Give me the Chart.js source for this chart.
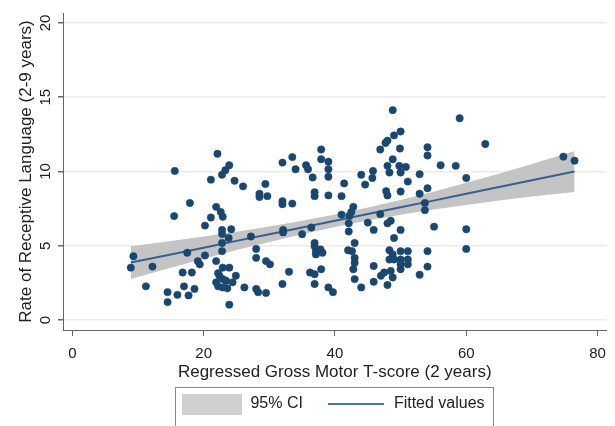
<!DOCTYPE html>
<html>
<head>
<meta charset="utf-8">
<script src="https://cdn.jsdelivr.net/npm/chart.js@4.4.0/dist/chart.umd.min.js"></script>
<style>
  html, body { margin: 0; padding: 0; background: #fff; }
  #wrap { width: 615px; height: 426px; }
</style>
</head>
<body>
<div id="wrap"><canvas id="chart" width="615" height="426"></canvas></div>
<script>
// ---- data ----
const motorScore = [
  15.6, 17.9, 15.5, 9.3, 8.9, 12.2, 17.5, 11.2, 16.8, 18.2, 17.0, 14.5, 16.0, 17.7, 14.5, 18.6,
  22.1, 23.9, 23.3, 22.8, 21.1, 24.7, 26.0, 29.4, 28.5, 28.5, 29.7, 21.9, 22.6, 22.9, 21.1, 20.2,
  22.8, 22.8, 24.2, 23.8, 27.2, 22.8, 22.8, 20.2, 19.1, 19.4, 28.0, 28.0, 29.5, 21.9, 22.9, 23.9,
  22.2, 22.4, 24.9, 22.9, 23.4, 21.9, 24.4, 22.2, 22.9, 23.6, 26.2, 28.0, 28.3, 29.5, 23.9,
  37.9, 32.0, 33.5, 34.0, 35.6, 35.9, 36.6, 37.9, 39.0, 39.0, 39.0, 36.9, 36.9, 39.0, 41.0, 41.4,
  32.0, 32.0, 33.5, 32.1, 32.1, 35.0, 36.4, 36.9, 36.9, 37.1, 37.8, 38.1, 37.1, 30.1, 33.0, 36.2,
  36.9, 37.9, 32.0, 36.9, 39.0, 39.7,
  48.8, 50.0, 49.0, 48.0, 47.7, 46.9, 49.9, 48.8, 48.0, 48.3, 49.8, 50.8, 50.0, 45.8, 45.7, 44.0,
  44.6, 51.1, 47.8, 48.0, 50.0, 42.8, 42.5, 42.2, 42.1, 42.1, 41.0, 45.0, 45.9, 46.9, 48.0, 48.5,
  50.0, 49.0, 43.0, 42.0, 42.6, 43.0, 43.0, 42.8, 43.0, 44.0, 45.9, 45.9, 47.0, 47.5, 48.5, 48.8,
  48.0, 48.3, 48.8, 50.0, 51.1, 48.3, 49.0, 50.0, 51.1, 50.0, 50.0, 51.1,
  59.0, 62.9, 54.1, 54.1, 56.1, 58.4, 52.9, 60.0, 54.1, 52.9, 53.7, 53.7, 55.1, 60.0, 54.1, 60.0,
  54.1, 52.9,
  74.8, 76.5
];
const receptiveRate = [
  10.04, 7.88, 7.0, 4.3, 3.53, 3.6, 4.53, 2.27, 3.2, 3.2, 2.27, 1.88, 1.7, 1.66, 1.21, 2.1,
  11.19, 10.42, 10.09, 9.78, 9.45, 9.38, 9.0, 9.16, 8.5, 8.28, 8.34, 7.62, 7.28, 6.95, 6.9, 6.36,
  6.07, 5.8, 6.11, 5.52, 5.63, 5.19, 4.64, 4.35, 3.97, 3.75, 4.79, 4.19, 3.97, 3.97, 3.53, 3.53,
  3.16, 2.98, 2.98, 2.76, 2.65, 2.54, 2.54, 2.27, 2.2, 2.14, 2.2, 2.1, 1.88, 1.83, 1.04,
  11.48, 10.6, 10.97, 10.15, 10.42, 10.15, 9.6, 10.82, 10.66, 10.15, 9.65, 8.6, 8.34, 8.39, 8.34, 9.2,
  8.0, 7.8, 7.84, 6.07, 5.9, 5.78, 6.23, 5.19, 4.97, 4.64, 4.75, 4.53, 4.42, 3.75, 3.25, 3.2,
  3.09, 3.42, 2.43, 2.43, 2.2, 1.88,
  14.13, 12.69, 12.43, 12.08, 11.92, 11.48, 11.55, 10.82, 10.38, 9.93, 10.38, 10.31, 9.93, 10.04, 9.56, 9.78,
  9.12, 9.32, 8.68, 8.39, 8.65, 7.62, 7.28, 7.0, 6.51, 5.96, 7.1, 6.56, 6.07, 7.13, 6.51, 6.69,
  6.07, 5.52, 5.19, 4.7, 4.64, 4.19, 3.86, 3.42, 2.76, 2.2, 3.64, 2.58, 2.98, 3.2, 3.31, 2.87,
  2.36, 4.7, 4.42, 4.64, 4.64, 4.08, 4.08, 4.08, 4.08, 3.75, 3.42, 3.75,
  13.58, 11.85, 11.63, 11.08, 10.42, 10.38, 9.82, 9.56, 8.87, 8.5, 7.88, 7.4, 6.29, 6.11, 4.64, 4.79,
  3.6, 3.05,
  11.0, 10.73
];

// fitted line and its 95% band, read at a few x positions
const ciX     = [8.9, 15, 20, 25, 30, 35, 40, 45, 50, 55, 60, 65, 70, 76.5];
const ciLower = [2.77, 3.52, 4.12, 4.71, 5.26, 5.78, 6.27, 6.70, 7.09, 7.44, 7.75, 8.05, 8.31, 8.62];
const ciUpper = [4.97, 5.32, 5.62, 5.95, 6.30, 6.68, 7.11, 7.58, 8.09, 8.64, 9.25, 9.85, 10.51, 11.38];
const fitted  = [3.87, 4.42, 4.87, 5.33, 5.78, 6.23, 6.69, 7.14, 7.59, 8.04, 8.50, 8.95, 9.41, 10.0];

const xTicks = [0, 20, 40, 60, 80];
const yTicks = [0, 5, 10, 15, 20];

const FONT = "'Liberation Sans', Arial, sans-serif";
const NAVY = '#1a476f';
const AXIS = '#666666';

function swatch(w, h, color) {
  const c = document.createElement('canvas');
  c.width = w; c.height = h;
  const g = c.getContext('2d');
  g.fillStyle = color;
  g.fillRect(0, 0, w, h);
  return c;
}
const ciSwatch = swatch(60, 21, '#d0d0d0');
const fitSwatch = swatch(56, 2, '#4f74a3');

const pts = (xs, ys) => xs.map((x, i) => ({ x: x, y: ys[i] }));

// legend sits a bit right of centre in a thin frame
const legendFrame = {
  id: 'legendFrame',
  afterLayout(chart) {
    const lg = chart.legend;
    lg.left += 30; lg.right += 30;
    lg.top -= 4; lg.bottom -= 4;
  },
  afterDraw(chart) {
    const hb = chart.legend.legendHitBoxes;
    if (!hb || !hb.length) return;
    const last = hb[hb.length - 1];
    const x0 = Math.round(hb[0].left - 7) + 0.5;
    const x1 = Math.round(last.left + last.width + 8) + 0.5;
    const y0 = Math.round(hb[0].top - 9) + 0.5;
    const ctx = chart.ctx;
    ctx.save();
    ctx.strokeStyle = '#8a8a8a';
    ctx.lineWidth = 1;
    ctx.strokeRect(x0, y0, x1 - x0, 60);
    ctx.restore();
  }
};

new Chart(document.getElementById('chart'), {
  type: 'scatter',
  data: {
    datasets: [
      {
        label: 'points',
        data: pts(motorScore, receptiveRate),
        pointRadius: 3.7,
        backgroundColor: NAVY,
        borderColor: NAVY,
        borderWidth: 0.5,
        order: 0
      },
      {
        label: 'Fitted values',
        data: pts(ciX, fitted),
        showLine: true,
        pointRadius: 0,
        borderColor: '#34618f',
        borderWidth: 2,
        order: 1
      },
      {
        label: 'lower',
        data: pts(ciX, ciLower),
        showLine: true,
        pointRadius: 0,
        borderWidth: 0,
        borderColor: 'rgba(0,0,0,0)',
        order: 3
      },
      {
        label: '95% CI',
        data: pts(ciX, ciUpper),
        showLine: true,
        pointRadius: 0,
        borderWidth: 0,
        borderColor: 'rgba(0,0,0,0)',
        backgroundColor: '#c4c4c4',
        fill: '-1',
        order: 2
      }
    ]
  },
  options: {
    responsive: false,
    animation: false,
    devicePixelRatio: 1,
    layout: { padding: { top: 10, right: 8, left: 0, bottom: 0 } },
    plugins: {
      tooltip: { enabled: false },
      legend: {
        position: 'bottom',
        labels: {
          usePointStyle: true,
          pointStyleWidth: 60,
          padding: 23,
          color: '#222',
          font: { family: FONT, size: 16 },
          generateLabels: () => [
            { text: '95% CI', pointStyle: ciSwatch, fontColor: '#222', hidden: false, lineWidth: 0, strokeStyle: 'rgba(0,0,0,0)', fillStyle: '#d0d0d0', datasetIndex: 3 },
            { text: 'Fitted values', pointStyle: fitSwatch, fontColor: '#222', hidden: false, lineWidth: 0, strokeStyle: 'rgba(0,0,0,0)', fillStyle: '#4f74a3', datasetIndex: 1 }
          ]
        }
      }
    },
    scales: {
      x: {
        type: 'linear',
        min: -1.43,
        max: 81.37,
        afterBuildTicks: (s) => { s.ticks = xTicks.map(v => ({ value: v })); },
        afterFit: (s) => { s.height = 47; },
        ticks: { color: '#222', font: { family: FONT, size: 15 }, padding: 9, maxRotation: 0 },
        grid: { drawOnChartArea: false, tickLength: 6, tickColor: AXIS },
        border: { color: AXIS, width: 1 },
        title: {
          display: true,
          text: 'Regressed Gross Motor T-score (2 years)',
          color: '#222',
          font: { family: FONT, size: 17 },
          padding: { top: 0, bottom: -6 }
        }
      },
      y: {
        type: 'linear',
        min: -0.667,
        max: 20.667,
        afterBuildTicks: (s) => { s.ticks = yTicks.map(v => ({ value: v })); },
        afterFit: (s) => { s.width = 63; },
        ticks: { color: '#222', font: { family: FONT, size: 15 }, minRotation: 90, maxRotation: 90, crossAlign: 'center', padding: 4 },
        grid: { color: '#ebebeb', lineWidth: 1.5, tickLength: 5, tickColor: AXIS },
        border: { color: AXIS, width: 1 },
        title: {
          display: true,
          text: 'Rate of Receptive Language (2-9 years)',
          color: '#222',
          font: { family: FONT, size: 17 },
          padding: { top: 16, bottom: 0 }
        }
      }
    }
  },
  plugins: [legendFrame]
});
</script>
</body>
</html>
